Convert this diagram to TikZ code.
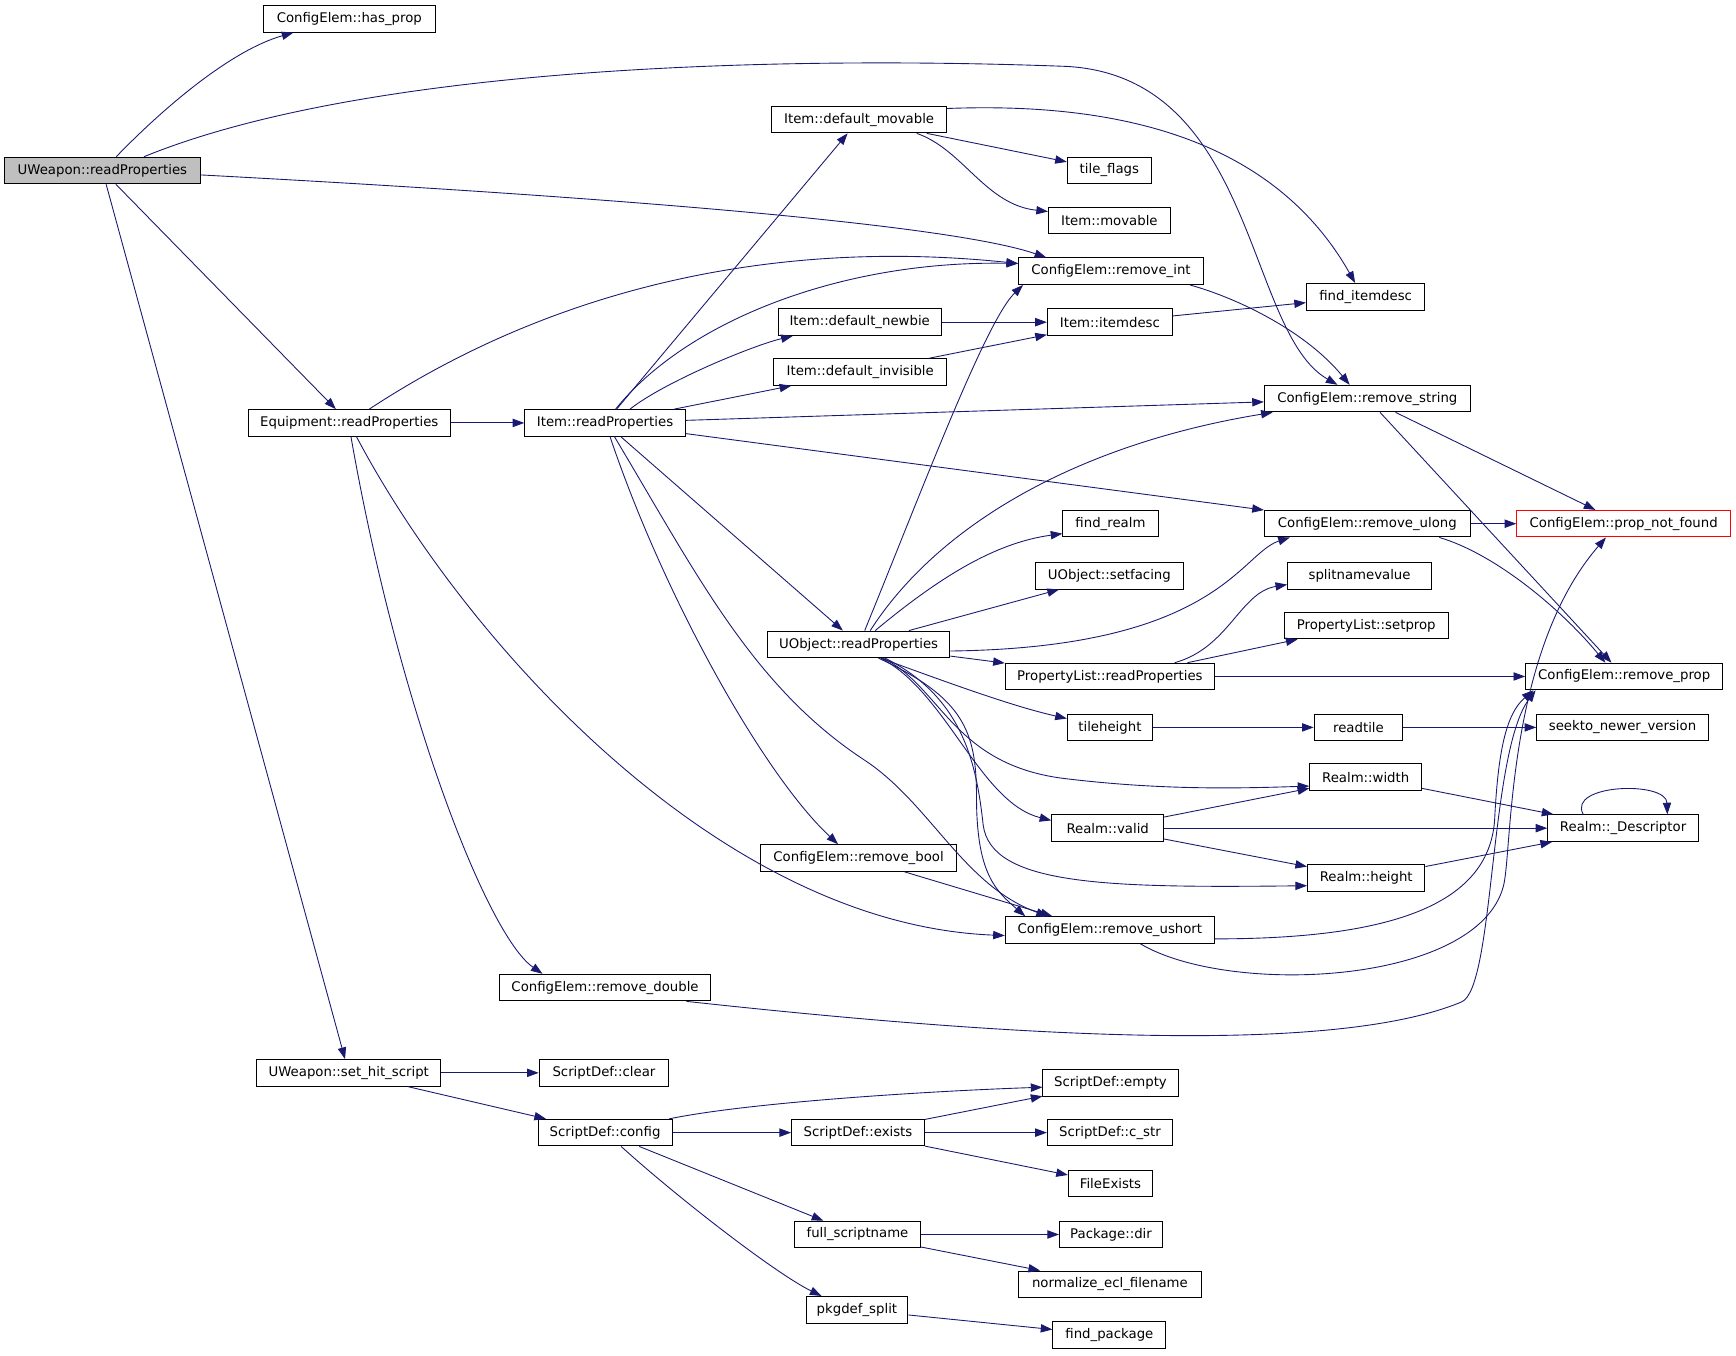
\documentclass[tikz,border=0pt]{standalone}
\usepackage{fontspec}
\setmainfont{DejaVu Sans}
\usepackage{tikz}
\usetikzlibrary{arrows.meta}
\definecolor{callblue}{RGB}{25,25,112}
\tikzset{fn/.style={draw, rectangle, line width=0.9pt, minimum height=24, inner xsep=2pt, inner ysep=0pt, font=\fontsize{12}{14}\selectfont},
	call/.style={-{Triangle[length=10.5pt,width=7.5pt]}, draw=callblue, line width=0.8pt}}
\begin{document}
\begin{tikzpicture}[x=1pt, y=-1pt]
		\useasboundingbox (0,0) rectangle (1568,1224);
		\node(UW)[fn, fill=gray!50, minimum width=177] at (92.5,154){UWeapon::readProperties};
		\node(HP)[fn, minimum width=155] at (315.5,17){ConfigElem::has\_prop};
		\node(EQ)[fn, minimum width=183] at (315.5,382){Equipment::readProperties};
		\node(IR)[fn, minimum width=145] at (546.5,382){Item::readProperties};
		\node(SH)[fn, minimum width=166] at (315,969){UWeapon::set\_hit\_script};
		\node(RDB)[fn, minimum width=191] at (546.5,892){ConfigElem::remove\_double};
		\node(DM)[fn, minimum width=158] at (776,108){Item::default\_movable};
		\node(TF)[fn, minimum width=76] at (1002,154){tile\_flags};
		\node(IM)[fn, minimum width=110] at (1002,199){Item::movable};
		\node(RI)[fn, minimum width=167] at (1003.5,245){ConfigElem::remove\_int};
		\node(FI)[fn, minimum width=107] at (1233.5,268){find\_itemdesc};
		\node(DN)[fn, minimum width=147] at (776.5,291){Item::default\_newbie};
		\node(IT)[fn, minimum width=113] at (1002.5,291){Item::itemdesc};
		\node(DI)[fn, minimum width=156] at (777,336){Item::default\_invisible};
		\node(RS)[fn, minimum width=186] at (1235,360){ConfigElem::remove\_string};
		\node(FR)[fn, minimum width=86] at (1003,473){find\_realm};
		\node(RL)[fn, minimum width=186] at (1235,473){ConfigElem::remove\_ulong};
		\node(PN)[fn, draw=red, minimum width=193] at (1466.5,473){ConfigElem::prop\_not\_found};
		\node(SF)[fn, minimum width=134] at (1002,520){UObject::setfacing};
		\node(SN)[fn, minimum width=130] at (1228,520){splitnamevalue};
		\node(UO)[fn, minimum width=165] at (775.5,582){UObject::readProperties};
		\node(SP)[fn, minimum width=148] at (1234,565){PropertyList::setprop};
		\node(PR)[fn, minimum width=189] at (1002.5,611){PropertyList::readProperties};
		\node(RP)[fn, minimum width=178] at (1467,611){ConfigElem::remove\_prop};
		\node(TH)[fn, minimum width=77] at (1002.5,657){tileheight};
		\node(RT)[fn, minimum width=80] at (1227,657){readtile};
		\node(SK)[fn, minimum width=155] at (1465.5,657){seekto\_newer\_version};
		\node(RW)[fn, minimum width=101] at (1233.5,702){Realm::width};
		\node(RV)[fn, minimum width=101] at (1000.5,748){Realm::valid};
		\node(DSC)[fn, minimum width=136] at (1466,748){Realm::\_Descriptor};
		\node(RB)[fn, minimum width=177] at (775.5,775){ConfigElem::remove\_bool};
		\node(RH)[fn, minimum width=106] at (1234,793){Realm::height};
		\node(RU)[fn, minimum width=189] at (1002.5,840){ConfigElem::remove\_ushort};
		\node(SC)[fn, minimum width=117] at (545.5,969){ScriptDef::clear};
		\node(SE)[fn, minimum width=122] at (1003,978){ScriptDef::empty};
		\node(CF)[fn, minimum width=121] at (546.5,1023){ScriptDef::config};
		\node(EX)[fn, minimum width=120] at (775,1023){ScriptDef::exists};
		\node(CS)[fn, minimum width=113] at (1002.5,1023){ScriptDef::c\_str};
		\node(FE)[fn, minimum width=76] at (1003,1069){FileExists};
		\node(FS)[fn, minimum width=113] at (774.5,1115){full\_scriptname};
		\node(PD)[fn, minimum width=93] at (1003.5,1115){Package::dir};
		\node(NF)[fn, minimum width=165] at (1002.5,1160){normalize\_ecl\_filename};
		\node(PS)[fn, minimum width=92] at (774,1183){pkgdef\_split};
		\node(FP)[fn, minimum width=102] at (1002,1206){find\_package};
		\draw[call]([xshift=12.5]UW.north) .. controls (150,95) and (210,45) .. ([xshift=-50.5]HP.south);
		\draw[call]([xshift=37.5]UW.north) .. controls (330,60) and (700,50) .. (964,60) .. controls (1135,70) and (1125,300) .. ([xshift=-27]RS.north);
		\draw[call]([yshift=-4]UW.east) .. controls (500,175) and (850,200) .. ([xshift=-58.5]RI.north);
		\draw[call](UW) to (EQ);
		\draw[call](UW) to (SH);
		\draw[call](EQ) to (IR);
		\draw[call]([xshift=18]EQ.north) .. controls (500,260) and (700,215) .. ([yshift=7]RI.west);
		\draw[call]([xshift=6.5]EQ.south) .. controls (420,580) and (650,835) .. ([yshift=-5]RU.west);
		\draw[call]([xshift=1.5]EQ.south) .. controls (360,640) and (440,845) .. ([xshift=-56.5]RDB.north);
		\draw[call](IR) to (DM);
		\draw[call]([xshift=9.5]IR.north) .. controls (620,290) and (760,235) .. ([yshift=7]RI.west);
		\draw[call]([xshift=22.5]IR.north) .. controls (600,345) and (680,312) .. ([xshift=-60.5]DN.south);
		\draw[call](IR) to (DI);
		\draw[call](IR) to (RS);
		\draw[call](IR) to (RL);
		\draw[call](IR) to (UO);
		\draw[call]([xshift=4.5]IR.south) .. controls (600,540) and (690,700) .. ([xshift=-18.5]RB.north);
		\draw[call]([xshift=8.5]IR.south) .. controls (630,520) and (680,620) .. (780,686) .. controls (840,725) and (870,800) .. ([xshift=-56]RU.north);
		\draw[call](DM) to (TF);
		\draw[call]([xshift=52]DM.south) .. controls (870,135) and (890,185) .. ([yshift=8]IM.west);
		\draw[call]([yshift=10]DM.east) .. controls (1010,92) and (1150,125) .. ([xshift=-9.5]FI.north);
		\draw[call]([xshift=71.5]RI.south) .. controls (1120,270) and (1180,300) .. ([xshift=-16]RS.north);
		\draw[call](DN) to (IT);
		\draw[call](DI) to (IT);
		\draw[call](IT) to (FI);
		\draw[call](RS) to (PN);
		\draw[call](RS) to (RP);
		\draw[call](RL) to (PN);
		\draw[call]([xshift=65]RL.south) .. controls (1350,500) and (1410,550) .. ([xshift=-17]RP.north);
		\draw[call]([xshift=5.5]UO.north) .. controls (830,450) and (890,290) .. ([xshift=-79.5]RI.south);
		\draw[call]([xshift=10.5]UO.north) .. controls (850,470) and (980,400) .. ([xshift=8]RS.south west);
		\draw[call]([xshift=15]UO.north) .. controls (850,520) and (900,490) .. ([yshift=-9]FR.west);
		\draw[call](UO) to (SF);
		\draw[call]([yshift=-6]UO.east) .. controls (1100,585) and (1120,500) .. ([xshift=-70]RL.south);
		\draw[call](UO) to (PR);
		\draw[call]([xshift=20]UO.south) .. controls (860,618) and (915,638) .. ([yshift=8]TH.west);
		\draw[call]([xshift=22]UO.south) .. controls (850,620) and (860,690) .. (960,703) .. controls (1050,714) and (1120,712) .. ([yshift=-8]RW.west);
		\draw[call]([xshift=20]UO.south) .. controls (855,625) and (885,725) .. ([yshift=7]RV.west);
		\draw[call]([xshift=24]UO.south) .. controls (870,630) and (882,690) .. (888,745) .. controls (895,800) and (1000,802) .. ([yshift=-7]RH.west);
		\draw[call]([xshift=18]UO.south) .. controls (870,630) and (882,660) .. (882,720) .. controls (882,790) and (900,805) .. ([xshift=-76.5]RU.north);
		\draw[call](RB) to ([xshift=-52]RU.north);
		\draw[call]([xshift=58.5]PR.north) .. controls (1110,585) and (1120,535) .. ([yshift=-8]SN.west);
		\draw[call]([xshift=70]PR.north) to ([xshift=-62]SP.south);
		\draw[call](PR) to (RP);
		\draw[call](TH) to (RT);
		\draw[call](RT) to (SK);
		\draw[call](RV) to (RW);
		\draw[call](RV) to (DSC);
		\draw[call](RV) to (RH);
		\draw[call](RW) to (DSC);
		\draw[call](RH) to (DSC);
		\draw[call]([xshift=-36]DSC.north) .. controls (1415,708) and (1505,705) .. ([xshift=40]DSC.north);
		\draw[call]([yshift=-8]RU.east) .. controls (1250,848) and (1345,820) .. (1350,740) .. controls (1353,680) and (1360,645) .. ([xshift=-82]RP.south);
		\draw[call]([xshift=27.5]RU.south) .. controls (1110,900) and (1335,890) .. (1358,800) .. controls (1366,769) and (1360,590) .. ([xshift=-16]PN.south);
		\draw[call]([xshift=73.5]RDB.south) .. controls (900,935) and (1200,955) .. (1320,905) .. controls (1350,893) and (1345,680) .. ([xshift=-80]RP.south);
		\draw[call](SH) to (SC);
		\draw[call](SH) to (CF);
		\draw[call]([xshift=-3]CF.north east) .. controls (680,995) and (850,985) .. ([yshift=-4]SE.west);
		\draw[call](CF) to (EX);
		\draw[call](EX) to (SE);
		\draw[call](EX) to (CS);
		\draw[call](EX) to (FE);
		\draw[call](CF) to (FS);
		\draw[call]([xshift=14.5]CF.south) .. controls (610,1080) and (700,1150) .. ([xshift=-32]PS.north);
		\draw[call](FS) to (PD);
		\draw[call](FS) to (NF);
		\draw[call](PS) to (FP);
	\end{tikzpicture}
\end{document}
